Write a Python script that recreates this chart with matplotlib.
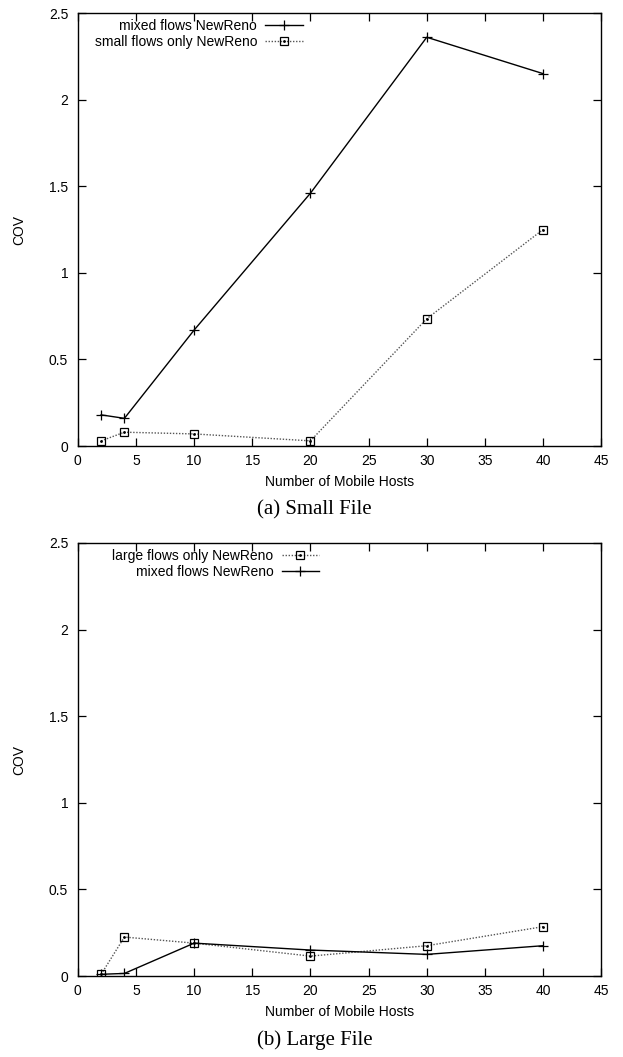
import matplotlib
matplotlib.use("Agg")
import matplotlib.pyplot as plt

# number of mobile hosts
hosts = [2, 4, 10, 20, 30, 40]

# (a) small file
small_mixed = [0.18, 0.16, 0.67, 1.46, 2.36, 2.15]
small_only = [0.03, 0.08, 0.07, 0.03, 0.735, 1.25]

# (b) large file
large_only = [0.01, 0.225, 0.19, 0.115, 0.175, 0.285]
large_mixed = [0.01, 0.015, 0.19, 0.15, 0.125, 0.175]

plt.rcParams['font.family'] = ['Liberation Sans', 'DejaVu Sans']
plt.rcParams['font.size'] = 10

fig = plt.figure(figsize=(6.23, 10.57), dpi=100)
ax1 = fig.add_axes([0.125, 0.578, 0.840, 0.4097])
ax2 = fig.add_axes([0.125, 0.0766, 0.840, 0.4097])


def solid(ax, y):
    ln, = ax.plot(hosts, y, color='black', lw=1.0, marker='+', ms=7, mew=0.9)
    return ln


def dotted(ax, y):
    ln, = ax.plot(hosts, y, color='#555555', lw=1.0, ls=(0, (1, 1.2)),
                  marker='s', ms=6, mfc='none', mec='black', mew=0.9)
    dot, = ax.plot(hosts, y, ls='none', marker='.', ms=2, color='black')
    return (ln, dot)


def style(ax, caption):
    ax.set_xlim(0, 45)
    ax.set_ylim(0, 2.5)
    ax.set_xticks(range(0, 46, 5))
    ax.set_yticks([0, 0.5, 1, 1.5, 2, 2.5])
    ax.set_yticklabels(['0', '0.5', '1', '1.5', '2', '2.5'])
    ax.tick_params(direction='in', length=6, width=0.9, top=True, right=True)
    ax.tick_params(axis='x', pad=6)
    ax.tick_params(axis='y', pad=7)
    for s in ax.spines.values():
        s.set_linewidth(1.0)
    ax.set_xlabel('Number of Mobile Hosts', labelpad=5)
    ax.set_ylabel('COV', labelpad=16)
    # caption sits centred on the page, not on the axes
    ax.text(0.452, -0.148, caption, transform=ax.transAxes, ha='center', va='center',
            fontsize=15, family=['Liberation Serif', 'DejaVu Serif'])


def key(ax, handles, labels, xr):
    ax.legend(handles, labels, loc='upper right', bbox_to_anchor=(xr, 0.986),
              frameon=False, markerfirst=False, handlelength=2.7,
              handletextpad=0.6, labelspacing=0.15, borderpad=0,
              borderaxespad=0)


h1 = solid(ax1, small_mixed)
h2 = dotted(ax1, small_only)
key(ax1, [h1, h2], ['mixed flows NewReno', 'small flows only NewReno'], 0.430)
style(ax1, '(a) Small File')

h3 = dotted(ax2, large_only)
h4 = solid(ax2, large_mixed)
key(ax2, [h3, h4], ['large flows only NewReno', 'mixed flows NewReno'], 0.461)
style(ax2, '(b) Large File')

fig.savefig('out.png', dpi=100)
